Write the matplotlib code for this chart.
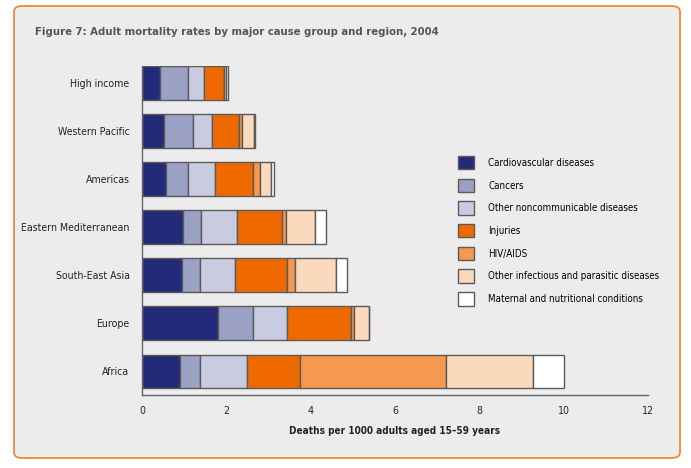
import matplotlib
matplotlib.use('Agg')
import matplotlib.pyplot as plt
from matplotlib.patches import FancyBboxPatch
import numpy as np

plt.rcParams['font.family'] = ['DejaVu Sans']
plt.rcParams['font.stretch'] = 'condensed'

regions = ['Africa', 'Europe', 'South-East Asia', 'Eastern Mediterranean',
           'Americas', 'Western Pacific', 'High income']
causes = ['Cardiovascular diseases', 'Cancers', 'Other noncommunicable diseases',
          'Injuries', 'HIV/AIDS', 'Other infectious and parasitic diseases',
          'Maternal and nutritional conditions']
colors = ['#232a7a', '#9ba0c5', '#c9cce0', '#ee6a00', '#f4994f', '#fbd9bd', '#ffffff']

# deaths per 1000, rows follow regions (bottom to top)
cardio   = [0.91, 1.81, 0.96, 0.98, 0.58, 0.53, 0.43]
cancers  = [0.47, 0.83, 0.42, 0.43, 0.50, 0.69, 0.66]
other_nc = [1.12, 0.81, 0.83, 0.85, 0.66, 0.43, 0.38]
injuries = [1.25, 1.51, 1.24, 1.07, 0.90, 0.66, 0.47]
hiv      = [3.47, 0.07, 0.19, 0.09, 0.17, 0.06, 0.01]
other_inf = [2.06, 0.36, 0.97, 0.69, 0.26, 0.28, 0.05]
maternal = [0.73, 0.00, 0.26, 0.25, 0.07, 0.03, 0.04]

series = [cardio, cancers, other_nc, injuries, hiv, other_inf, maternal]

fig = plt.figure(figsize=(6.91, 4.68), dpi=100)
fig.patch.set_facecolor('white')
box = FancyBboxPatch((14 / 691, 1 - 458 / 468), 666 / 691, 452 / 468,
                     boxstyle='round,pad=0,rounding_size=0.012',
                     transform=fig.transFigure, facecolor='#ececec',
                     edgecolor='#f28a35', linewidth=1.3, zorder=-5)
fig.patches.append(box)

fig.text(35 / 691, 1 - 32 / 468, 'Figure 7: Adult mortality rates by major cause group and region, 2004',
         fontsize=8.1, fontweight='bold', color='#555555', va='center', ha='left')

ax = fig.add_axes([142 / 691, 1 - 395 / 468, 506 / 691, 329 / 468])
ax.set_facecolor('none')

y = np.arange(len(regions))
left = np.zeros(len(regions))
for vals, name, col in zip(series, causes, colors):
    ax.barh(y, vals, left=left, height=0.7, color=col, edgecolor='#5a5a5a',
            linewidth=1.0, label=name)
    left += np.array(vals)

ax.set_xlim(0, 12)
ax.set_ylim(-0.49, 6.35)
ax.set_xticks(range(0, 13, 2))
ax.set_yticks(y)
ax.set_yticklabels(regions)
ax.tick_params(axis='both', length=0, labelsize=7.6, colors='#222222')
ax.tick_params(axis='y', pad=9)
ax.tick_params(axis='x', pad=8)
for s in ['top', 'right']:
    ax.spines[s].set_visible(False)
for s in ['left', 'bottom']:
    ax.spines[s].set_color('#666666')
    ax.spines[s].set_linewidth(1.0)

ax.set_xlabel('Deaths per 1000 adults aged 15\u201359 years', fontsize=7.2,
              fontweight='bold', color='#222222', labelpad=7)

handles, labels = ax.get_legend_handles_labels()
fig.legend(handles, labels, loc='upper left', bbox_to_anchor=(458 / 691, 1 - 156 / 468),
           frameon=False, fontsize=7, handlelength=1.65, handleheight=1.75,
           labelspacing=0.95, handletextpad=1.45, borderpad=0, borderaxespad=0)

fig.savefig('out.png', dpi=100)
